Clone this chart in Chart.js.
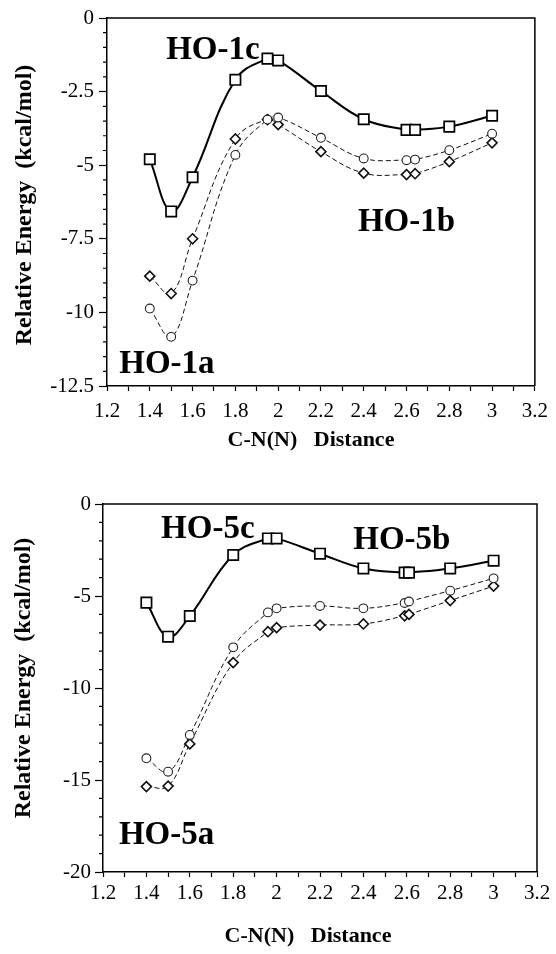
<!DOCTYPE html>
<html><head><meta charset="utf-8">
<script src="https://cdn.jsdelivr.net/npm/chart.js@4.4.0/dist/chart.umd.min.js"></script>
<style>
html,body{margin:0;padding:0;background:#fff;}
.wrap{position:relative;width:556px;height:477px;}
canvas{display:block;}
</style></head><body>
<div class="wrap"><canvas id="c1" width="556" height="477"></canvas></div>
<div class="wrap"><canvas id="c2" width="556" height="477"></canvas></div>
<script>
// ---------- data ----------
const distances1 = [1.4, 1.5, 1.6, 1.8, 1.95, 2.0, 2.2, 2.4, 2.6, 2.64, 2.8, 3.0];
const ho1cSquares = [-4.80, -6.57, -5.41, -2.10, -1.38, -1.44, -2.48, -3.44, -3.80, -3.80, -3.69, -3.32];
const ho1Circles  = [-9.87, -10.83, -8.92, -4.65, -3.45, -3.38, -4.07, -4.77, -4.83, -4.81, -4.49, -3.93];
const ho1Diamonds = [-8.77, -9.36, -7.50, -4.11, -3.45, -3.62, -4.54, -5.27, -5.32, -5.29, -4.88, -4.24];

const distances5 = [1.4, 1.5, 1.6, 1.8, 1.96, 2.0, 2.2, 2.4, 2.59, 2.61, 2.8, 3.0];
const ho5cSquares = [-5.36, -7.21, -6.09, -2.77, -1.87, -1.87, -2.70, -3.50, -3.73, -3.73, -3.50, -3.08];
const ho5Circles  = [-13.82, -14.55, -12.55, -7.79, -5.89, -5.67, -5.54, -5.67, -5.38, -5.30, -4.71, -4.04];
const ho5Diamonds = [-15.36, -15.33, -13.04, -8.62, -6.94, -6.72, -6.58, -6.52, -6.08, -6.00, -5.25, -4.46];

const xTickLabels = ['1.2','1.4','1.6','1.8','2','2.2','2.4','2.6','2.8','3','3.2'];
const yTickLabels1 = ['0','-2.5','-5','-7.5','-10','-12.5'];
const yTickLabels5 = ['0','-5','-10','-15','-20'];
const seriesLabels1 = ['HO-1c', 'HO-1b', 'HO-1a'];
const seriesLabels5 = ['HO-5c', 'HO-5b', 'HO-5a'];
const xTitle = 'C-N(N)   Distance';
const yTitle = 'Relative Energy  (kcal/mol)';

// ---------- helpers ----------
const SERIF = '"Liberation Serif", "Times New Roman", serif';
const pts = (xs, ys) => xs.map((x, i) => ({x: x, y: ys[i]}));
const fmt = v => String(Math.round(v * 10) / 10);

function datasets(xs, sq, ci, di) {
  return [
    {data: pts(xs, sq), borderColor: '#000', borderWidth: 2, tension: 0.4,
     pointStyle: 'rect', pointRadius: 7.3, pointBorderWidth: 1.7,
     pointBackgroundColor: '#fff', pointBorderColor: '#000', fill: false},
    {data: pts(xs, ci), borderColor: '#111', borderWidth: 1, borderDash: [5, 3], tension: 0.4,
     pointStyle: 'circle', pointRadius: 4.4, pointBorderWidth: 1.1,
     pointBackgroundColor: '#fff', pointBorderColor: '#222', fill: false},
    {data: pts(xs, di), borderColor: '#111', borderWidth: 1, borderDash: [5, 3], tension: 0.4,
     pointStyle: 'rectRot', pointRadius: 5, pointBorderWidth: 1.6,
     pointBackgroundColor: '#fff', pointBorderColor: '#111', fill: false}
  ];
}

const decor = {
  id: 'decor',
  afterDraw(chart, args, o) {
    const {ctx, chartArea: a, scales: {x, y}} = chart;
    ctx.save();
    ctx.strokeStyle = '#000';
    ctx.lineWidth = 1.5;
    ctx.beginPath();
    ctx.moveTo(a.left, a.top); ctx.lineTo(a.right, a.top); ctx.lineTo(a.right, a.bottom);
    ctx.stroke();
    // minor y ticks
    ctx.lineWidth = 1.2;
    ctx.beginPath();
    for (let v = y.min; v <= y.max + 1e-9; v += o.minorY) {
      const r = v / o.majorY;
      if (Math.abs(r - Math.round(r)) < 1e-6) continue;
      const py = y.getPixelForValue(v);
      ctx.moveTo(a.left - 4, py); ctx.lineTo(a.left, py);
    }
    ctx.stroke();
    // series labels
    ctx.fillStyle = '#000';
    ctx.font = 'bold 33px ' + SERIF;
    ctx.textAlign = 'center';
    ctx.textBaseline = 'alphabetic';
    o.labels.forEach((t, i) => {
      ctx.fillText(t, x.getPixelForValue(o.labelX[i]), y.getPixelForValue(o.labelY[i]));
    });
    // axis titles
    ctx.font = 'bold 22px ' + SERIF;
    ctx.textBaseline = 'middle';
    ctx.fillText(xTitle, o.xTitlePos[0], o.xTitlePos[1]);
    ctx.translate(o.yTitlePos[0], o.yTitlePos[1]);
    ctx.rotate(-Math.PI / 2);
    ctx.font = 'bold 24px ' + SERIF;
    ctx.fillText(yTitle, 0, 0);
    ctx.restore();
  }
};

function makeChart(id, xs, sq, ci, di, cfg) {
  return new Chart(document.getElementById(id), {
    type: 'line',
    data: {datasets: datasets(xs, sq, ci, di)},
    plugins: [decor],
    options: {
      responsive: false,
      animation: false,
      layout: {padding: {top: cfg.padTop, right: cfg.padRight, left: 0, bottom: 0}},
      plugins: {
        legend: {display: false}, tooltip: {enabled: false},
        decor: cfg.decor
      },
      scales: {
        x: {
          type: 'linear', min: 1.2, max: 3.2,
          afterFit: s => { s.height = cfg.xH; },
          border: {display: true, color: '#000', width: 1.5},
          grid: {drawOnChartArea: false, drawTicks: true, tickLength: 5, color: '#000', tickWidth: 1.2},
          ticks: {
            stepSize: 0.1, autoSkip: false, maxRotation: 0, color: '#000',
            padding: cfg.xPad, font: {family: SERIF, size: 21},
            callback: v => {
              const k = Math.round(v * 10);
              if (k % 2 !== 0) return '';
              const s = fmt(v);
              return xTickLabels.includes(s) ? s : '';
            }
          }
        },
        y: {
          type: 'linear', min: cfg.yMin, max: 0,
          afterFit: s => { s.width = cfg.yW; },
          border: {display: true, color: '#000', width: 1.5},
          grid: {drawOnChartArea: false, drawTicks: true, tickLength: 8, color: '#000', tickWidth: 1.2},
          ticks: {
            stepSize: cfg.decor.majorY, color: '#000', padding: cfg.yPad,
            font: {family: SERIF, size: 21},
            callback: v => {
              const s = fmt(v);
              return cfg.yLabels.includes(s) ? s : '';
            }
          }
        }
      }
    }
  });
}

makeChart('c1', distances1, ho1cSquares, ho1Circles, ho1Diamonds, {
  padTop: 18, padRight: 16, xH: 91, yW: 107, xPad: 8, yPad: 5, yMin: -12.5,
  yLabels: yTickLabels1,
  decor: {
    majorY: 2.5, minorY: 0.5, labels: seriesLabels1,
    labelX: [1.695, 2.60, 1.48], labelY: [-1.38, -7.22, -12.05],
    xTitlePos: [311, 440], yTitlePos: [25, 205]
  }
});

makeChart('c2', distances5, ho5cSquares, ho5Circles, ho5Diamonds, {
  padTop: 27, padRight: 19, xH: 82, yW: 103, xPad: 4, yPad: 4, yMin: -20,
  yLabels: yTickLabels5,
  decor: {
    majorY: 5, minorY: 1, labels: seriesLabels5,
    labelX: [1.683, 2.577, 1.493], labelY: [-1.85, -2.45, -18.5],
    xTitlePos: [308, 459], yTitlePos: [24, 201]
  }
});
</script>
</body></html>
